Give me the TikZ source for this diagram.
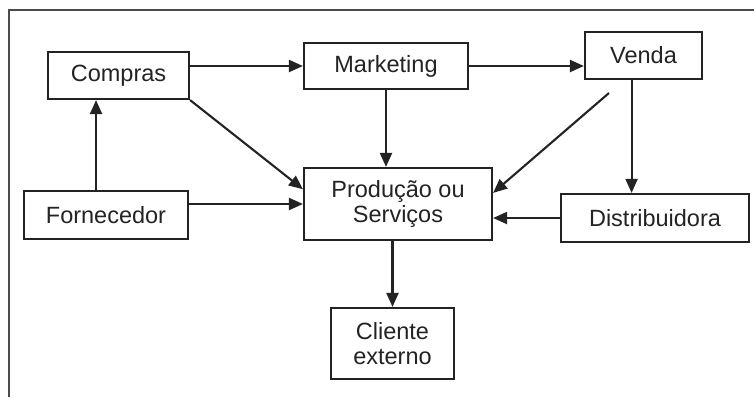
\documentclass[tikz,border=0pt]{standalone}
\usepackage{fontspec}
\setmainfont{Liberation Sans}
\usepackage{tikz}
\usetikzlibrary{arrows.meta,calc,positioning}
\definecolor{grisOscuro}{RGB}{35, 35, 35}
\definecolor{grisMarco}{RGB}{75, 75, 75}
\tikzstyle{caja}  =[draw=grisOscuro, line width=2.2pt, align=center,
                    inner sep=0pt, text=grisOscuro,
                    font=\fontsize{23.5}{24.5}\selectfont]
\tikzstyle{flecha}=[-{Triangle[length=14pt,width=12pt]},
                    line width=2.1pt, grisOscuro]
\tikzstyle{marco} =[line width=2.2pt, grisMarco]

\begin{document}
\begin{tikzpicture}[x=1pt,y=-1pt]
    \useasboundingbox (0,0) rectangle (754,397);
    \draw [marco] (9,397) -- (9,10) -- (754,10);

    \draw (118.5,75.5) node (compras) [caja,minimum width=141pt,minimum height=47pt] {Compras};
    \draw (386,66) node (marketing) [caja,minimum width=164pt,minimum height=46pt] {Marketing};
    \draw (643.5,55.5) node (venda) [caja,minimum width=117pt,minimum height=47pt] {Venda};
    \draw (398,204) node (producao) [caja,minimum width=188pt,minimum height=72pt] {Produção ou\\Serviços};
    \draw (106,215) node (fornecedor) [caja,minimum width=164pt,minimum height=48pt] {Fornecedor};
    \draw (655,218) node (distribuidora) [caja,minimum width=188pt,minimum height=48pt] {Distribuidora};
    \draw (392.5,343.5) node (cliente) [caja,minimum width=123pt,minimum height=71pt] {Cliente\\externo};

    \coordinate (fornecedorTop) at ($(fornecedor.north west)!0.44!(fornecedor.north east)$);
    \coordinate (vendaBaixo) at ($(venda.south west)!0.4!(venda.south east)$);
    \coordinate (vendaSaida) at (609,93);
    \coordinate (prodEsq) at ($(producao.north west)!0.3!(producao.south west)$);
    \coordinate (prodDir) at ($(producao.north east)!0.35!(producao.south east)$);

    \draw [flecha] (compras.east |- marketing.west) to (marketing.west);
    \draw [flecha] (marketing.east) to (marketing.east -| venda.west);
    \draw [flecha] (compras.south east) to (prodEsq);
    \draw [flecha] (fornecedorTop) to (fornecedorTop |- compras.south);
    \draw [flecha] (fornecedor.east |- producao.west) to (producao.west);
    \draw [flecha] (marketing.south) to (marketing.south |- producao.north);
    \draw [flecha] (vendaSaida) to (prodDir);
    \draw [flecha] (vendaBaixo) to (vendaBaixo |- distribuidora.north);
    \draw [flecha] (distribuidora.west) to (distribuidora.west -| producao.east);
    \draw [flecha] (cliente.north |- producao.south) to (cliente.north);

\end{tikzpicture}
\end{document}
